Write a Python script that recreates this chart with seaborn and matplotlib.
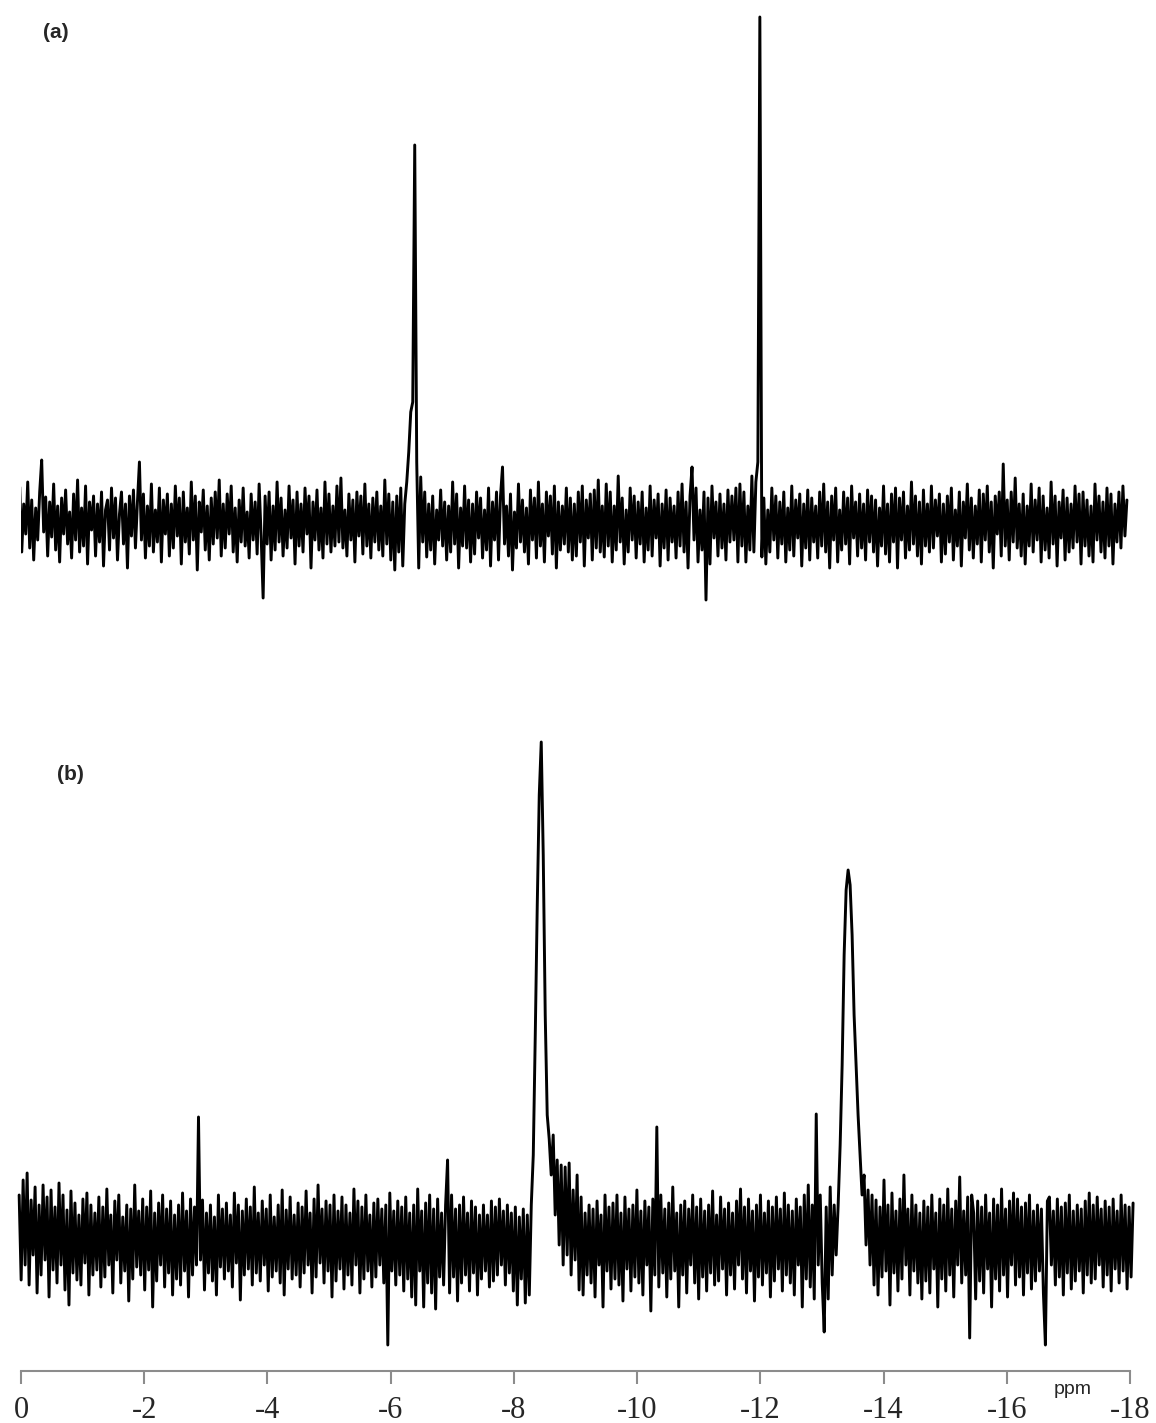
import numpy as np
import matplotlib
matplotlib.use('Agg')
import matplotlib.pyplot as plt
import seaborn as sns

# intensities (baseline = 0), equally spaced in ppm
spec_a = [
    12, -22, 28, -8, 35, -30, 18, -12, 40, -26, 22, -38, 14, -18, 30, 62, -10, 25, -34, 20,
    -15, 38, -28, 16, -40, 24, -12, 32, -22, 10, -36, 28, -18, 42, -30, 14, -24, 36, -42, 20,
    -8, 26, -34, 18, -20, 30, -44, 12, 22, -28, 34, -16, 24, -38, 8, 30, -22, 18, -46, 26,
    -14, 32, -26, 20, 60, -18, 28, -36, 16, -24, 38, -30, 12, -20, 34, -40, 22, -12, 28, -34,
    18, -26, 36, -14, 24, -42, 30, -20, 14, -32, 40, -18, 26, -48, 20, -10, 32, -28, 16, -38,
    24, -22, 30, -16, 42, -34, 18, -26, 28, -12, 36, -30, 14, -40, 22, -20, 34, -24, 10, -36,
    28, -18, 20, -32, 38, -14, -76, 26, -22, 30, -38, 16, -28, 40, -20, 24, -34, 12, -26, 36,
    -16, 22, -42, 30, -24, 18, -30, 34, -12, 26, -46, 20, -18, 32, -28, 14, -36, 40, -22, 28,
    -30, 16, -24, 36, -20, 44, -26, 12, -34, 28, -18, 22, -40, 30, -14, 26, -32, 38, -24, 18,
    -36, 24, -20, 30, -28, 16, -34, 42, -22, 28, -38, 20, -48, 26, -30, 34, -44, 18, 40, 70,
    110, 120, 377, 60, -46, 45, -20, 30, -35, 18, -28, 26, -42, 12, -18, 32, -24, 20, -38, 16,
    -30, 40, -22, 28, -46, 14, -24, 36, -26, 22, -40, 18, -32, 30, -16, 24, -36, 12, -28, 34,
    -44, 20, -18, 30, -38, 26, 55, -22, 16, -34, 28, -48, 10, -26, 38, -20, 22, -30, 14, -42,
    32, -18, 24, -36, 40, -24, 18, -40, 30, -14, 26, -32, 36, -46, 20, -28, 16, -22, 34, -30,
    24, -38, 18, -34, 30, -20, 36, -44, 22, -16, 28, -38, 32, -26, 42, -30, 16, -35, 38, -24,
    30, -40, 16, -28, 46, -20, 24, -42, 12, -30, 34, -18, 26, -36, 20, -22, 30, -40, 14, -28,
    36, -34, 22, -16, 28, -44, 18, -26, 32, -38, 24, -20, 16, -36, 30, -24, 38, -30, 20, -46,
    26, 55, -18, 34, -40, 12, -28, 30, -78, 24, -42, 36, -16, 20, -34, 28, -26, 18, -38, 32,
    -20, 26, -18, 34, -40, 38, -24, 30, -40, 16, -28, 46, -30, 40, 60, 505, -35, 24, -42, 12,
    -30, 34, -18, 26, -36, 20, -22, 30, -40, 14, -28, 36, -34, 22, -16, 28, -44, 18, -26, 32,
    -38, 24, -20, 16, -36, 30, -24, 38, -30, 20, -46, 26, -18, 34, -40, 12, -28, 30, -22, 24,
    -42, 36, -16, 20, -34, 28, -26, 18, -38, 32, -20, 26, -30, 22, -44, 14, -24, 36, -32, 18,
    -40, 28, -20, 34, -46, 24, -18, 30, -36, 16, -28, 40, -22, 26, -34, 20, -42, 32, -24, 18,
    -30, 36, -26, 22, -14, 28, -40, 18, -32, 26, -20, 34, -38, 12, -24, 30, -44, 20, -16, 38,
    -28, 24, -36, 16, -22, 32, -40, 28, -18, 36, -30, 20, -46, 26, -12, 30, -34, 58, -24, 22,
    -38, 30, -20, 44, -26, 18, -34, 28, -42, 16, -24, 38, -30, 22, -18, 34, -40, 26, -28, 14,
    -36, 40, -22, 26, -44, 20, -16, 32, -38, 24, -30, 18, -26, 36, -20, 28, -42, 30, -24, 22,
    -34, 16, -40, 38, -18, 26, -30, 20, -36, 34, -24, 28, -42, 18, -20, 30, -26, 36, -14, 22,
]

spec_b = [
    40, -45, 55, -30, 62, -50, 35, -20, 48, -58, 30, -40, 50, -25, 38, -62, 45, -35, 28, -48,
    52, -30, 40, -55, 25, -70, 44, -38, 32, -45, 20, -50, 36, -28, 42, -60, 30, -40, 22, -35,
    38, -52, 28, -42, 46, -30, 20, -58, 34, -25, 40, -48, 18, -36, 30, -66, 26, -44, 50, -32,
    24, -40, 36, -55, 28, -35, 44, -72, 22, -46, 32, -30, 40, -52, 26, -38, 34, -60, 20, -44,
    30, -50, 42, -36, 24, -62, 36, -40, 28, -30, 118, -25, 35, -55, 22, -38, 30, -46, 18, -60,
    40, -32, 26, -44, 32, -36, 20, -52, 42, -28, 30, -65, 24, -40, 36, -34, 28, -50, 48, -38,
    22, -46, 34, -30, 26, -56, 40, -42, 18, -36, 30, -48, 45, -60, 25, -34, 38, -44, 20, -40,
    32, -52, 28, -38, 44, -30, 22, -58, 36, -42, 50, -28, 26, -48, 34, -36, 30, -62, 40, -46,
    24, -34, 38, -54, 30, -40, 22, -50, 46, -30, 34, -58, 28, -44, 40, -36, 20, -52, 32, -42,
    36, -30, 26, -48, 30, -110, 42, -36, 24, -50, 34, -40, 28, -56, 38, -44, 22, -62, 30, -70,
    46, -36, 24, -72, 32, -48, 40, -58, 26, -74, 36, -42, 22, -50, 30, 75, -58, 40, -42, 26,
    -66, 30, -48, 38, -40, 22, -56, 34, -38, 28, -60, 20, -44, 30, -36, 20, -52, 34, -46, 28,
    -40, 36, -30, 24, -50, 30, -38, 22, -56, 28, -70, 18, -44, 26, -68, 20, -60, 30, 80, 200,
    330, 440, 493, 380, 220, 120, 96, 60, 100, 20, 75, -10, 70, -30, 68, -20, 72, -40, 45, -25,
    60, -55, 38, -60, 22, -40, 30, -48, 26, -62, 34, -30, 20, -72, 40, -36, 28, -54, 32, -44,
    40, -50, 22, -66, 38, -34, 26, -56, 30, -42, 45, -48, 24, -60, 34, -30, 28, -76, 36, -40,
    108, -52, 40, -38, 26, -62, 32, -44, 48, -36, 22, -72, 30, -40, 34, -58, 26, -30, 40, -48,
    28, -64, 36, -42, 24, -56, 30, -38, 44, -50, 20, -46, 38, -34, 26, -60, 32, -40, 22, -54,
    34, -30, 46, -44, 28, -58, 36, -36, 24, -66, 30, -42, 40, -50, 22, -38, 34, -62, 28, -46,
    38, -34, 26, -56, 42, -40, 30, -48, 24, -60, 36, -30, 28, -72, 40, -44, 50, -52, 30, -64,
    121, -30, 40, -48, -97, 28, -64, 48, -40, 30, -20, 30, 90, 170, 280, 345, 365, 350, 300, 220,
    170, 120, 80, 40, 60, -10, 45, -30, 40, -50, 35, -60, 28, -42, 55, -36, 30, -70, 42, -38,
    24, -56, 36, -44, 60, -30, 26, -60, 40, -36, 30, -48, 22, -64, 34, -46, 28, -58, 40, -34,
    22, -72, 36, -44, 30, -56, 46, -40, 26, -62, 34, -30, 58, -48, 24, -40, 38, -103, 40, 22,
    -64, 34, -46, 28, -58, 40, -34, 22, -72, 36, -44, 30, -56, 46, -40, 26, -62, 34, -30, 42,
    -50, 36, -42, 28, -60, 32, -38, 40, -54, 24, -46, 30, -36, 26, -58, -110, 34, 38, -30, 24,
    -50, 36, -42, 28, -60, 32, -38, 40, -54, 24, -46, 30, -36, 26, -58, 34, -40, 42, -48, 30,
    -44, 38, -30, 26, -52, 34, -40, 28, -56, 36, -34, 24, -48, 40, -36, 30, -54, 28, -42, 32,
]

ppm_a = np.linspace(0.15, -17.95, len(spec_a))
ppm_b = np.linspace(0.03, -18.05, len(spec_b))
ticks = [0, -2, -4, -6, -8, -10, -12, -14, -16, -18]

sns.set_style('white')

W, H = 1156, 1423
fig = plt.figure(figsize=(W / 100, H / 100), dpi=100)
left = 21 / W
width = (1130 - 21) / W

# top spectrum (a): no axis drawn
ax_a = fig.add_axes([left, 1 - 620 / H, width, 620 / H])
sns.lineplot(x=ppm_a, y=spec_a, ax=ax_a, color='black', lw=2.1,
             sort=False, estimator=None)
ax_a.set_xlim(0, -18)
ax_a.set_ylim(-98, 522)
ax_a.axis('off')

# bottom spectrum (b) with the ppm scale
ax_b = fig.add_axes([left, 1 - 1371 / H, width, (1371 - 700) / H])
sns.lineplot(x=ppm_b, y=spec_b, ax=ax_b, color='black', lw=2.1,
             sort=False, estimator=None)
ax_b.set_xlim(0, -18)
ax_b.set_ylim(-136, 535)
for s in ['top', 'left', 'right']:
    ax_b.spines[s].set_visible(False)
ax_b.spines['bottom'].set_color('#8c8c8c')
ax_b.spines['bottom'].set_linewidth(1.5)
ax_b.set_yticks([])
ax_b.set_xticks(ticks)
ax_b.set_xticklabels([str(t) for t in ticks], family='Liberation Serif', fontsize=22)
ax_b.tick_params(axis='x', direction='out', length=9, width=1.5, color='#8c8c8c',
                 pad=9, bottom=True)
for line in ax_b.get_lines():
    line.set_clip_on(False)

fig.text(1073 / W, 1 - 1390 / H, 'ppm', fontsize=14, family='Liberation Sans',
         ha='center', va='center')
fig.text(56 / W, 1 - 32 / H, '(a)', fontsize=15, fontweight='bold',
         family='Liberation Sans', ha='center', va='center')
fig.text(70 / W, 1 - 774 / H, '(b)', fontsize=15, fontweight='bold',
         family='Liberation Sans', ha='center', va='center')

fig.savefig('out.png', dpi=100)
